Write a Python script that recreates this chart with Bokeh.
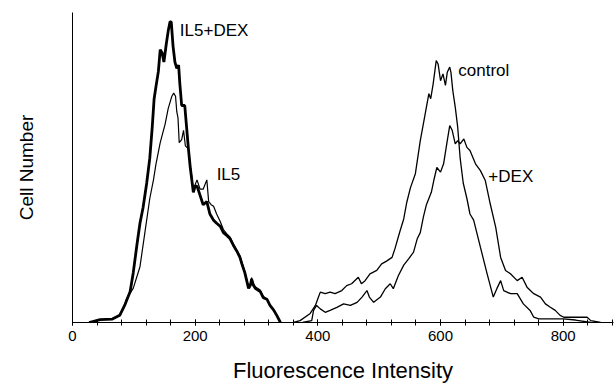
from bokeh.plotting import figure
from bokeh.models import Range1d, FixedTicker, Label
from bokeh.embed import file_html
from bokeh.resources import INLINE

# ---- data ----
il5dex_x = [27, 45, 65, 77, 85, 94, 99, 105, 110, 115, 121, 126, 130, 133, 136, 140, 143, 146, 149, 153,
            156, 159, 161, 164, 167, 170, 173, 175, 178, 183, 186, 189, 192, 197, 200, 203, 208, 213, 219, 224,
            230, 235, 241, 246, 252, 257, 262, 268, 273, 276, 281, 287, 290, 292, 295, 298, 306, 311, 317, 322,
            328, 333, 339]
il5dex_y = [0, 0.9, 1.1, 2.3, 5.5, 10, 16, 25, 32, 37, 45, 53, 63, 72, 76, 81, 88, 87, 84, 90,
            94, 97, 97, 89, 84, 82, 83, 77, 70, 70, 63, 56, 50, 42, 44, 44, 41, 38, 39, 35,
            33, 32, 31, 29, 28, 27, 25, 23, 21, 19, 16, 11, 12, 14, 12, 11, 10, 8, 7.5, 5.5,
            4, 2.3, 0]

il5_x = [27, 45, 65, 77, 85, 88, 99, 110, 118, 126, 132, 136, 143, 151, 156, 162, 165, 168, 170, 172,
         174, 178, 181, 184, 189, 192, 197, 203, 208, 213, 219, 222, 226, 230, 235, 241, 246, 252, 257, 262,
         268, 273, 276, 281, 287, 290, 292, 295, 298, 306, 311, 317, 322, 328, 333, 339]
il5_y = [0, 0.9, 1.1, 2.3, 5.5, 7.6, 11, 18, 29, 40, 46, 51, 58, 64, 69, 73, 74, 73, 68, 66,
         58, 59, 62, 57, 56, 51, 43, 46, 43, 43, 46, 39, 38, 37.5, 35, 32.5, 30, 28.5, 27.5, 25.5,
         23, 21.5, 19.5, 16.5, 11.5, 12.5, 14.5, 12.5, 11.5, 10.5, 8.5, 7.5, 5.5, 4, 2.3, 0]

control_x = [360, 371, 387, 396, 401, 404, 412, 420, 428, 439, 447, 455, 466, 471, 477, 485, 496, 504, 512, 521,
             526, 531, 534, 540, 545, 551, 559, 567, 575, 581, 584, 588, 593, 596, 600, 604, 608, 611, 615, 617,
             620, 624, 628, 632, 637, 643, 648, 654, 665, 676, 686, 692, 698, 703, 714, 725, 735, 746, 752, 760,
             800, 820, 845]
control_y = [0, 0.6, 2.8, 5.5, 8.2, 9.8, 9.3, 9.8, 9.3, 10.3, 11.9, 12.5, 14.6, 12.5, 13.5, 15.7, 16.8, 18.9, 19.8, 21,
             24, 27.5, 29.5, 33.4, 38.8, 43.5, 48, 58.7, 67.3, 73.8, 72.2, 77, 84.5, 83.4, 78, 80.2, 76.5, 80.7, 82.4, 80.7,
             74.8, 69.5, 63, 53, 45, 40, 35, 33, 24.3, 15.7, 8.2, 11, 13.5, 10.3, 9.3, 9.3, 6, 3.9, 1.7, 1.2,
             1.2, 0.8, 0]

dex_x = [375, 390, 393, 398, 404, 412, 420, 431, 442, 453, 464, 472, 480, 484, 491, 502, 510, 518, 523, 531,
         540, 548, 556, 562, 567, 572, 577, 581, 585, 589, 594, 600, 605, 611, 615, 619, 624, 628, 632, 638,
         643, 648, 657, 665, 673, 681, 690, 698, 706, 714, 725, 733, 741, 752, 763, 771, 779, 787, 795, 801,
         839, 845, 861]
dex_y = [0, 0.6, 3.9, 5.5, 4.4, 3.3, 3.9, 4.9, 6, 5.5, 6.5, 8.2, 10.3, 8.2, 6.5, 8.2, 10.9, 12.5, 10.9, 15,
         18.5, 20.5, 22.7, 27, 29, 34, 38, 40, 42, 45.8, 50, 48.5, 51.2, 58.7, 63.5, 62, 57.6, 58.7, 57.6, 59.2,
         56.5, 55.5, 51.2, 49, 45.8, 38.3, 30.7, 21, 16.8, 15.7, 13.5, 14.6, 11.4, 9.3, 8.2, 6, 4.9, 3.9, 2.3, 1.7,
         1.7, 0.6, 0]

x_ticks = [0, 200, 400, 600, 800]
label_texts = ["IL5+DEX", "IL5", "control", "+DEX"]
label_x = [175, 235, 629, 678]
label_y = [94.2, 47.9, 81.3, 47.1]

FONT = "Liberation Sans"

p = figure(frame_width=541, frame_height=310,
           min_border_left=72, min_border_right=3, min_border_top=12, min_border_bottom=68,
           x_range=Range1d(0, 882), y_range=Range1d(0, 100),
           output_backend="svg", toolbar_location=None)
p.outline_line_color = None
p.xgrid.visible = False
p.ygrid.visible = False
p.background_fill_color = "white"
p.border_fill_color = "white"

p.line(il5_x, il5_y, line_color="black", line_width=1.2)
p.line(il5dex_x, il5dex_y, line_color="black", line_width=2.8)
p.line(control_x, control_y, line_color="black", line_width=1.3)
p.line(dex_x, dex_y, line_color="black", line_width=1.3)

for t, lx, ly in zip(label_texts, label_x, label_y):
    p.add_layout(Label(x=lx, y=ly, text=t, text_font=FONT, text_font_size="17px",
                       text_baseline="middle", text_align="left", text_color="black"))

xa = p.xaxis[0]
xa.ticker = FixedTicker(ticks=x_ticks, minor_ticks=list(range(0, 881, 40)))
xa.axis_line_color = "black"
xa.major_tick_in = 3
xa.major_tick_out = 3
xa.minor_tick_in = 3
xa.minor_tick_out = 3
xa.major_tick_line_color = "black"
xa.minor_tick_line_color = "black"
xa.major_label_text_font = FONT
xa.major_label_text_font_size = "15px"
xa.major_label_text_color = "black"
xa.major_label_standoff = 5
xa.axis_label = "Fluorescence Intensity"
xa.axis_label_text_font = FONT
xa.axis_label_text_font_size = "22px"
xa.axis_label_text_font_style = "normal"
xa.axis_label_text_color = "black"
xa.axis_label_standoff = 14

ya = p.yaxis[0]
ya.ticker = FixedTicker(ticks=[])
ya.axis_line_color = "black"
ya.major_tick_out = 0
ya.major_tick_in = 0
ya.minor_tick_line_color = None
ya.major_label_standoff = 0
ya.axis_label = "Cell Number"
ya.axis_label_text_font = FONT
ya.axis_label_text_font_size = "19px"
ya.axis_label_text_font_style = "normal"
ya.axis_label_text_color = "black"
ya.axis_label_standoff = 36

open("out.html", "w").write(file_html(p, INLINE))
